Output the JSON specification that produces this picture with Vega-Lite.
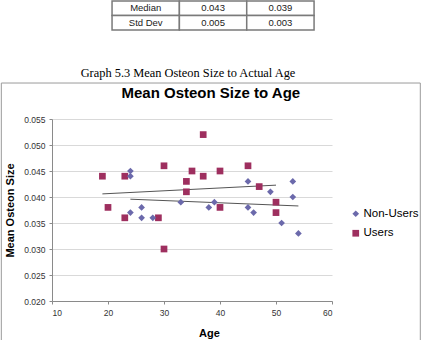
{
  "$schema": "https://vega.github.io/schema/vega-lite/v6.json",
  "padding": 0,
  "autosize": {"type": "pad"},
  "background": "white",
  "spacing": 2,
  "config": {
    "view": {"stroke": null},
    "font": "Liberation Sans"
  },
  "vconcat": [
    {
      "width": 280,
      "height": 29,
      "title": {
        "text": "Graph 5.3 Mean Osteon Size to Actual Age",
        "orient": "bottom",
        "anchor": "middle",
        "frame": "bounds",
        "font": "Liberation Serif",
        "fontSize": 12.4,
        "fontWeight": "normal",
        "color": "#000000",
        "offset": 36,
        "dx": -4
      },
      "data": {
        "values": [
          {"stat": "Median", "column": "Statistic", "text": "Median"},
          {"stat": "Median", "column": "Users", "text": "0.043"},
          {"stat": "Median", "column": "Non-Users", "text": "0.039"},
          {"stat": "Std Dev", "column": "Statistic", "text": "Std Dev"},
          {"stat": "Std Dev", "column": "Users", "text": "0.005"},
          {"stat": "Std Dev", "column": "Non-Users", "text": "0.003"}
        ]
      },
      "encoding": {
        "x": {"field": "column", "type": "nominal", "sort": ["Statistic", "Users", "Non-Users"], "scale": {"paddingInner": 0, "paddingOuter": 0.579, "align": 0.77}, "axis": null},
        "y": {"field": "stat", "type": "nominal", "sort": ["Median", "Std Dev"], "scale": {"paddingInner": 0, "paddingOuter": 0}, "axis": null}
      },
      "layer": [
        {"mark": {"type": "rect", "fill": "white", "stroke": "#7a7a7a", "strokeWidth": 1.5}},
        {"mark": {"type": "text", "fontSize": 9.5, "color": "#1a1a1a"}, "encoding": {"text": {"field": "text"}}}
      ]
    },
    {
      "width": 280,
      "height": 182,
      "title": {
        "text": "Mean Osteon Size to Age",
        "anchor": "middle",
        "frame": "bounds",
        "fontSize": 15,
        "fontWeight": "bold",
        "color": "#000000",
        "offset": -18
      },
      "resolve": {"axis": {"x": "independent", "y": "independent"}},
      "layer": [
        {
          "data": {"values": [{"part": "chart area"}]},
          "mark": {"type": "rect", "fill": null, "fillOpacity": 0, "stroke": "#9a9a9a", "strokeWidth": 1},
          "encoding": {
            "x": {"datum": 0.95, "type": "quantitative", "scale": {"domain": [10, 60], "nice": false, "zero": false}, "axis": null},
            "x2": {"datum": 75.77},
            "y": {"datum": 0.06192, "type": "quantitative", "scale": {"domain": [0.02, 0.055], "nice": false, "zero": false}, "axis": null},
            "y2": {"datum": 0.01215}
          }
        },
        {
          "data": {
            "values": [
              {"group": "Users", "age": 19, "size": 0.044},
              {"group": "Users", "age": 20, "size": 0.038},
              {"group": "Users", "age": 23, "size": 0.044},
              {"group": "Users", "age": 23, "size": 0.036},
              {"group": "Users", "age": 29, "size": 0.036},
              {"group": "Users", "age": 30, "size": 0.046},
              {"group": "Users", "age": 30, "size": 0.030},
              {"group": "Users", "age": 34, "size": 0.043},
              {"group": "Users", "age": 34, "size": 0.041},
              {"group": "Users", "age": 35, "size": 0.045},
              {"group": "Users", "age": 37, "size": 0.052},
              {"group": "Users", "age": 37, "size": 0.044},
              {"group": "Users", "age": 40, "size": 0.045},
              {"group": "Users", "age": 40, "size": 0.038},
              {"group": "Users", "age": 45, "size": 0.046},
              {"group": "Users", "age": 47, "size": 0.042},
              {"group": "Users", "age": 50, "size": 0.039},
              {"group": "Users", "age": 50, "size": 0.037},
              {"group": "Non-Users", "age": 24, "size": 0.045},
              {"group": "Non-Users", "age": 24, "size": 0.044},
              {"group": "Non-Users", "age": 24, "size": 0.037},
              {"group": "Non-Users", "age": 26, "size": 0.038},
              {"group": "Non-Users", "age": 26, "size": 0.036},
              {"group": "Non-Users", "age": 28, "size": 0.036},
              {"group": "Non-Users", "age": 33, "size": 0.039},
              {"group": "Non-Users", "age": 38, "size": 0.038},
              {"group": "Non-Users", "age": 39, "size": 0.039},
              {"group": "Non-Users", "age": 45, "size": 0.043},
              {"group": "Non-Users", "age": 45, "size": 0.038},
              {"group": "Non-Users", "age": 46, "size": 0.037},
              {"group": "Non-Users", "age": 49, "size": 0.041},
              {"group": "Non-Users", "age": 51, "size": 0.035},
              {"group": "Non-Users", "age": 53, "size": 0.043},
              {"group": "Non-Users", "age": 53, "size": 0.040},
              {"group": "Non-Users", "age": 54, "size": 0.033}
            ]
          },
          "encoding": {
            "x": {
              "field": "age",
              "type": "quantitative",
              "axis": {
                "title": "Age",
                "orient": "bottom",
                "values": [10, 20, 30, 40, 50, 60],
                "grid": false,
                "domainColor": "#8a8a8a",
                "tickColor": "#8a8a8a",
                "tickSize": 3,
                "labelFontSize": 8.5,
                "labelColor": "#333333",
                "labelPadding": 4.5,
                "titleFontSize": 11,
                "titleFontWeight": "bold",
                "titleColor": "#000000",
                "titleX": 157,
                "titlePadding": 10
              }
            },
            "y": {
              "field": "size",
              "type": "quantitative",
              "axis": {
                "title": "Mean Osteon Size",
                "orient": "left",
                "values": [0.02, 0.025, 0.03, 0.035, 0.04, 0.045, 0.05, 0.055],
                "format": ".3f",
                "grid": true,
                "gridColor": "#d9d9d9",
                "domainColor": "#8a8a8a",
                "tickColor": "#8a8a8a",
                "tickSize": 3,
                "labelFontSize": 8.5,
                "labelColor": "#333333",
                "labelPadding": 4,
                "titleFontSize": 11,
                "titleFontWeight": "bold",
                "titleColor": "#000000",
                "titlePadding": 8
              }
            }
          },
          "layer": [
            {
              "transform": [{"regression": "size", "on": "age", "groupby": ["group"]}],
              "mark": {"type": "line", "color": "#555555", "strokeWidth": 1},
              "encoding": {"detail": {"field": "group", "type": "nominal"}}
            },
            {
              "mark": {"type": "point", "filled": true, "opacity": 1, "size": 45, "strokeWidth": 0},
              "encoding": {
                "color": {
                  "field": "group",
                  "type": "nominal",
                  "scale": {"domain": ["Non-Users", "Users"], "range": ["#6b69ab", "#9e2f5f"]},
                  "legend": {"title": null, "orient": "none", "legendX": 298, "legendY": 207, "labelFontSize": 11.5, "labelColor": "#000000", "symbolSize": 45, "labelOffset": 2, "rowPadding": 6.5, "padding": 0, "symbolStrokeWidth": 0}
                },
                "shape": {
                  "field": "group",
                  "type": "nominal",
                  "scale": {"domain": ["Non-Users", "Users"], "range": ["diamond", "square"]},
                  "legend": {"title": null, "orient": "none", "legendX": 298, "legendY": 207, "labelFontSize": 11.5, "labelColor": "#000000", "symbolSize": 45, "labelOffset": 2, "rowPadding": 6.5, "padding": 0, "symbolStrokeWidth": 0}
                }
              }
            }
          ]
        }
      ]
    }
  ]
}
